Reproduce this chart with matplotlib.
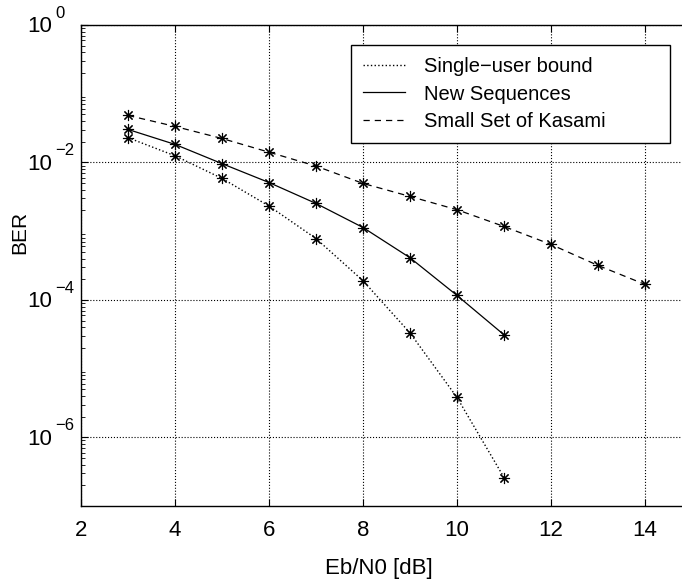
import numpy as np
import matplotlib
matplotlib.use("Agg")
import matplotlib.pyplot as plt
import matplotlib.transforms as mtransforms

plt.rcParams['font.family'] = ['Liberation Sans', 'DejaVu Sans']

# Eb/N0 values
ebn0_single = [3, 4, 5, 6, 7, 8, 9, 10, 11]
ebn0_new = [3, 4, 5, 6, 7, 8, 9, 10, 11]
ebn0_kasami = [3, 4, 5, 6, 7, 8, 9, 10, 11, 12, 13, 14]

# BER values
ber_single = [0.0229, 0.0125, 0.00585, 0.00232, 0.00078, 0.00019, 3.3e-5, 3.8e-6, 2.6e-7]
ber_new = [0.0302, 0.0183, 0.0096, 0.0051, 0.00253, 0.00113, 0.00041, 0.000116, 3.1e-5]
ber_kasami = [0.0483, 0.0334, 0.0223, 0.0141, 0.00885, 0.00495, 0.0032, 0.00205,
              0.00117, 0.00064, 0.000317, 0.000168]

labels = ['Single\u2212user bound', 'New Sequences', 'Small Set of Kasami']

xticks = [2, 4, 6, 8, 10, 12, 14]
yexps = [0, -2, -4, -6]

fig = plt.figure(figsize=(6.82, 5.81), dpi=100)
ax = fig.add_axes([0.1188, 0.129, 0.8959, 0.828])

mk = dict(marker=(8, 2, 0), markersize=8, markeredgewidth=0.8, color='black')
ax.semilogy(ebn0_single, ber_single, linestyle=':', linewidth=1.0, label=labels[0], **mk)
ax.semilogy(ebn0_new, ber_new, linestyle='-', linewidth=0.9, label=labels[1], **mk)
ax.semilogy(ebn0_kasami, ber_kasami, linestyle=(0, (5, 4)), linewidth=0.9, label=labels[2], **mk)

ax.set_xlim(2, 15)
ax.set_ylim(1e-7, 1)
ax.set_xticks(xticks)
ax.set_yticks([10.0 ** e for e in yexps])
ax.set_yticklabels([])

ax.grid(True, which='major', linestyle=':', color='black', linewidth=0.8)
ax.tick_params(which='both', direction='in', top=True, right=True, labelsize=16, pad=10)
ax.tick_params(which='major', length=5)
ax.tick_params(which='minor', length=3)
for s in ax.spines.values():
    s.set_linewidth(1.0)

# MATLAB-style y tick labels: "10" with a raised exponent
trans = mtransforms.blended_transform_factory(ax.transAxes, ax.transData)
for e in yexps:
    t_base = mtransforms.offset_copy(trans, fig=fig, x=-29, y=-2, units='dots')
    ax.text(0, 10.0 ** e, '10', transform=t_base, ha='right', va='center', fontsize=16)
    t_exp = mtransforms.offset_copy(trans, fig=fig, x=-26, y=4, units='dots')
    ax.text(0, 10.0 ** e, str(e).replace('-', '\u2212'), transform=t_exp,
            ha='left', va='bottom', fontsize=12)

ax.set_xlabel('Eb/N0 [dB]', fontsize=16)
ax.xaxis.set_label_coords((379 - 81) / 611, -(568 - 506) / 481)
ax.xaxis.label.set_va('center')
ax.set_ylabel('BER', fontsize=15)
ax.yaxis.set_label_coords((20 - 81) / 611, (506 - 232) / 481)
ax.yaxis.label.set_va('center')

leg = ax.legend(loc='upper left',
                bbox_to_anchor=(351 / 682, 1 - 45 / 581, 319 / 682, 0),
                bbox_transform=fig.transFigure, mode='expand', fontsize=14.5,
                frameon=True, fancybox=False, edgecolor='black', framealpha=1,
                handlelength=2.1, handletextpad=0.9, borderpad=0.6,
                borderaxespad=0, labelspacing=0.42)
leg.get_frame().set_linewidth(1.0)
for h in leg.legend_handles:
    h.set_marker('')

fig.savefig('out.png', dpi=100)
